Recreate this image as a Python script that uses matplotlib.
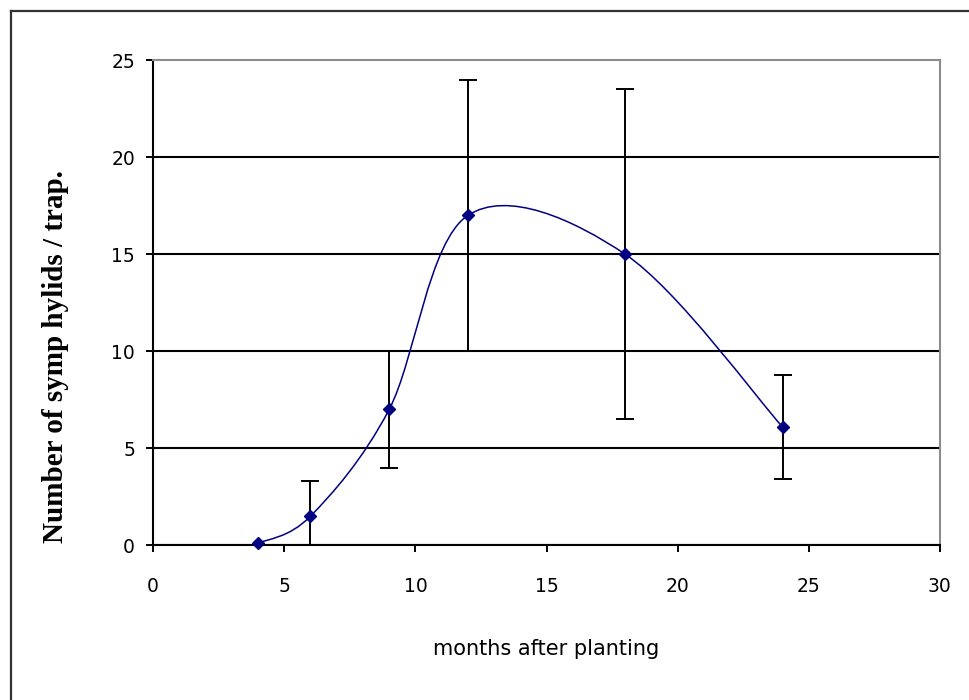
"""
Symphylid catch per trap against months after planting, with error bars
and an Excel-style smoothed line.

Output: out.png
"""

import matplotlib.pyplot as plt
from matplotlib.path import Path
from matplotlib.patches import PathPatch
from matplotlib.lines import Line2D

months = [4, 6, 9, 12, 18, 24]
symphylids = [0.1, 1.5, 7.0, 17.0, 15.0, 6.1]
errors = [0.0, 1.8, 3.0, 7.0, 8.5, 2.7]

x_ticks = [0, 5, 10, 15, 20, 25, 30]
y_ticks = [0, 5, 10, 15, 20, 25]

NAVY = '#000080'

fig = plt.figure(figsize=(9.69, 7.0), dpi=100)
ax = fig.add_axes([0.158, 0.221, 0.812, 0.693])

# Smoothed line: cubic Bezier through the points (Catmull-Rom style handles).
pts = list(zip(months, symphylids))
ext = [pts[0]] + pts + [pts[-1]]
verts = [pts[0]]
codes = [Path.MOVETO]
for i in range(1, len(ext) - 2):
    p0, p1, p2, p3 = ext[i - 1], ext[i], ext[i + 1], ext[i + 2]
    c1 = (p1[0] + (p2[0] - p0[0]) / 6, p1[1] + (p2[1] - p0[1]) / 6)
    c2 = (p2[0] - (p3[0] - p1[0]) / 6, p2[1] - (p3[1] - p1[1]) / 6)
    verts += [c1, c2, p2]
    codes += [Path.CURVE4] * 3
ax.add_patch(PathPatch(Path(verts, codes), facecolor='none',
                       edgecolor=NAVY, lw=1.1, zorder=3))

# no bar is drawn where the error is zero
bx = [m for m, e in zip(months, errors) if e > 0]
by = [s for s, e in zip(symphylids, errors) if e > 0]
be = [e for e in errors if e > 0]
ax.errorbar(bx, by, yerr=be, fmt='none', ecolor='black',
            elinewidth=1.4, capsize=6.5, capthick=1.4, zorder=4)
ax.plot(months, symphylids, linestyle='none', marker='D', markersize=6.5,
        color=NAVY, zorder=5, clip_on=False)

ax.set_xlim(0, 30)
ax.set_ylim(0, 25)
ax.set_xticks(x_ticks)
ax.set_yticks(y_ticks)
ax.tick_params(direction='out', length=5, width=1.4, labelsize=13.5,
               colors='black', pad=18)
ax.tick_params(axis='y', pad=8)

ax.yaxis.grid(True, color='black', lw=1.5)
ax.get_ygridlines()[-1].set_visible(False)
ax.set_axisbelow(True)

for side in ['left', 'bottom']:
    ax.spines[side].set_color('black')
    ax.spines[side].set_linewidth(1.5)
for side in ['top', 'right']:
    ax.spines[side].set_color('#8c8c8c')
    ax.spines[side].set_linewidth(1.5)

ax.set_xlabel('months after planting', fontsize=15, labelpad=31)
fig.text(0.057, 0.49, 'Number of symp hylids / trap.', rotation=90,
         ha='center', va='center', fontsize=21, fontweight='bold',
         family='Liberation Serif')

# Outer chart frame (only left and top edges show in the crop).
fig.add_artist(Line2D([11 / 969, 11 / 969], [0, 1 - 11 / 700],
                      transform=fig.transFigure, color='#333333', lw=1.6))
fig.add_artist(Line2D([11 / 969, 1], [1 - 11 / 700, 1 - 11 / 700],
                      transform=fig.transFigure, color='#333333', lw=1.6))

fig.savefig('out.png', dpi=100)
